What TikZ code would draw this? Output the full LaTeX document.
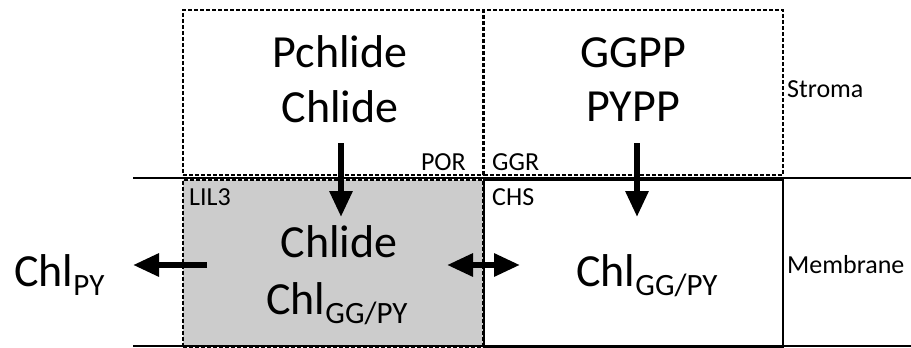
\documentclass[tikz,border=0pt]{standalone}
\usepackage{fontspec}
\setmainfont{Carlito}
\usetikzlibrary{arrows.meta}
\newcommand{\sbs}[1]{\raisebox{-9pt}{\fontsize{31}{31}\selectfont #1}}
\begin{document}
\begin{tikzpicture}[x=1pt,y=-1pt,
  dbox/.style={draw, line width=1.7pt, dash pattern=on 4pt off 2pt, inner sep=0pt, anchor=north west},
  sbox/.style={draw, line width=1.7pt, inner sep=0pt, anchor=north west},
  big/.style={font=\fontsize{46}{55}\selectfont, inner sep=0pt, anchor=base},
  small/.style={font=\fontsize{26}{30}\selectfont, inner sep=0pt},
  memline/.style={line width=1.5pt},
  flow/.style={line width=6pt, -{Triangle[width=22pt,length=26pt]}},
  dflow/.style={line width=6pt, {Triangle[width=22pt,length=26pt]}-{Triangle[width=22pt,length=26pt]}}]
\useasboundingbox (0,0) rectangle (911,348);
% boxes
\node[dbox, fill=gray!40, minimum width=300pt, minimum height=167pt] (lil) at (182,179) {};
\node[sbox, minimum width=299pt, minimum height=167pt] (chs) at (483,179) {};
\node[dbox, minimum width=300pt, minimum height=165pt] (por) at (182,9) {};
\node[dbox, minimum width=299pt, minimum height=165pt] (ggr) at (483,9) {};
% membrane lines
\coordinate (t1) at (133,178); \coordinate (t2) at (911,178);
\coordinate (b1) at (133,346); \coordinate (b2) at (911,346);
\draw[memline] (t1) -- (t2);
\draw[memline] (b1) -- (b2);
% big texts
\node[big] (pch) at (340,67) {Pchlide};
\node[big] (chl1) at (340,122) {Chlide};
\node[big] (ggpp) at (633,67) {GGPP};
\node[big] (pypp) at (633,121) {PYPP};
\node[big] (chl2) at (339,257) {Chlide};
\node[big, anchor=base west] (chlgg1) at (266,314) {Chl\sbs{GG/PY}};
\node[big, anchor=base west] (chlpy) at (14,286) {Chl\sbs{PY}};
\node[big, anchor=base west] (chlgg2) at (576,286) {Chl\sbs{GG/PY}};
% small labels
\node[small, anchor=base east] (porl) at (466,170) {POR};
\node[small, anchor=base west] (ggrl) at (492,170) {GGR};
\node[small, anchor=base west] (lill) at (189,205) {LIL3};
\node[small, anchor=base west] (chsl) at (492,205) {CHS};
\node[small, anchor=base west] (stroma) at (787,97) {Stroma};
\node[small, anchor=base west] (membrane) at (787,273) {Membrane};
% arrows
\coordinate (a1s) at (341,143); \coordinate (a1e) at (341,217);
\coordinate (a2s) at (637,143); \coordinate (a2e) at (637,217);
\coordinate (a3s) at (207,265); \coordinate (a3e) at (133,265);
\coordinate (a4s) at (447,265); \coordinate (a4e) at (520,265);
\draw[flow] (a1s) -- (a1e);
\draw[flow] (a2s) -- (a2e);
\draw[flow] (a3s) -- (a3e);
\draw[dflow] (a4s) -- (a4e);
\end{tikzpicture}
\end{document}
